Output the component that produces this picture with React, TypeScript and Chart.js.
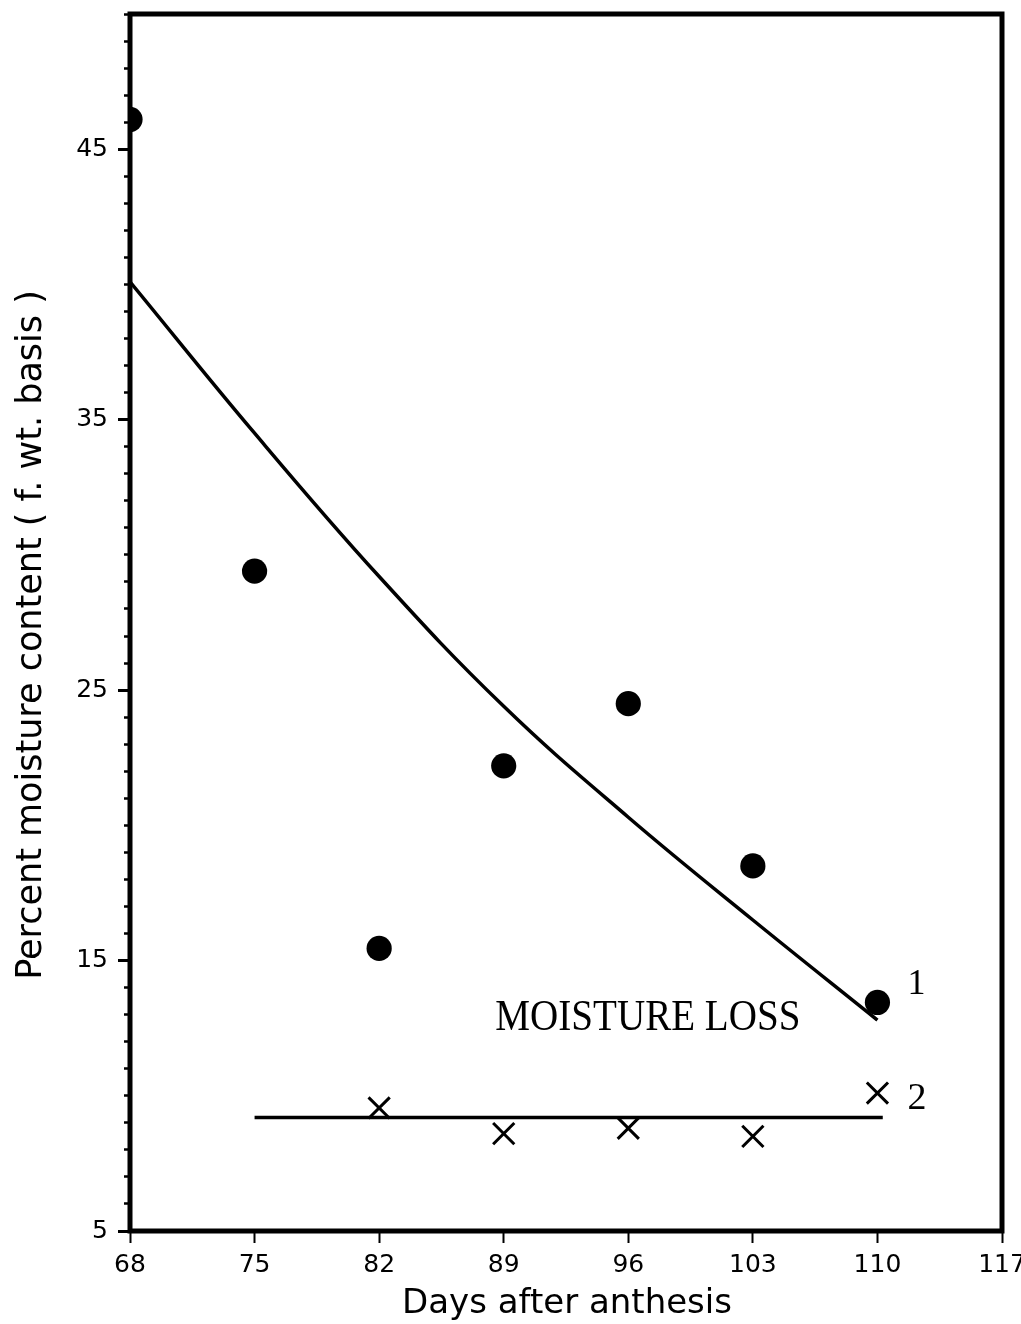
import React, { useEffect, useRef } from "react";
import { Chart, registerables } from "chart.js";

Chart.register(...registerables);

// Observed moisture content (curve 1, filled circles)
const sampleDays = [68, 75, 82, 89, 96, 103, 110];
const sampleMoisture = [46.1, 29.4, 15.45, 22.2, 24.5, 18.5, 13.45];

// Fitted curve 1
const fitDays = [68, 75, 82, 89, 96, 103, 110];
const fitMoisture = [40.1, 34.5, 29.2, 24.4, 20.3, 16.5, 12.8];

// Moisture loss (curve 2, crosses) and its mean line
const lossDays = [82, 89, 96, 103, 110];
const lossMoisture = [9.55, 8.6, 8.8, 8.5, 10.1];
const lossLineDays = [75, 110.3];
const lossLineMoisture = [9.2, 9.2];

// Axis ticks
const xTicks = [68, 75, 82, 89, 96, 103, 110, 117];
const yTicks = [5, 15, 25, 35, 45];

const pts = (xs: number[], ys: number[]) => xs.map((x, i) => ({ x, y: ys[i] }));

const frameAndText = {
  id: "frameAndText",
  afterDatasetsDraw(chart: any) {
    const { ctx, chartArea: a } = chart;
    ctx.save();
    ctx.lineWidth = 5;
    ctx.strokeStyle = "#000";
    ctx.strokeRect(a.left, a.top, a.right - a.left, a.bottom - a.top);
    ctx.restore();
  },
  afterDraw(chart: any) {
    const { ctx, chartArea: a } = chart;
    const xs = chart.scales.x;
    const ys = chart.scales.y;
    ctx.save();
    ctx.fillStyle = "#000";

    // axis titles
    ctx.font = '34px "DejaVu Sans", sans-serif';
    ctx.textAlign = "center";
    ctx.textBaseline = "alphabetic";
    ctx.fillText("Days after anthesis", (a.left + a.right) / 2 + 1, 1313);

    ctx.save();
    ctx.font = '35px "DejaVu Sans", sans-serif';
    ctx.translate(41, 635);
    ctx.rotate(-Math.PI / 2);
    ctx.fillText("Percent moisture content ( f. wt. basis )", 0, 0);
    ctx.restore();

    // in-plot labels
    ctx.font = '44px "Liberation Serif", serif';
    ctx.textAlign = "center";
    ctx.fillText("MOISTURE LOSS", xs.getPixelForValue(97.1), ys.getPixelForValue(12.43), 305);

    ctx.textAlign = "left";
    ctx.font = '36px "Liberation Serif", serif';
    const px = xs.getPixelForValue(110);
    ctx.fillText("1", px + 30, ys.getPixelForValue(13.45) - 8);
    ctx.font = '38px "Liberation Serif", serif';
    ctx.fillText("2", px + 30, ys.getPixelForValue(10.1) + 16);
    ctx.restore();
  },
};

export default function App() {
  const ref = useRef<HTMLCanvasElement>(null);

  useEffect(() => {
    const tickFont = { family: '"DejaVu Sans", sans-serif', size: 25, lineHeight: 1 };
    const chart = new Chart(ref.current!, {
      type: "scatter",
      data: {
        datasets: [
          {
            data: pts(fitDays, fitMoisture),
            showLine: true,
            borderColor: "#000",
            borderWidth: 3.5,
            pointRadius: 0,
            tension: 0.4,
            xAxisID: "x",
            yAxisID: "y",
          },
          {
            data: pts(lossLineDays, lossLineMoisture),
            showLine: true,
            borderColor: "#000",
            borderWidth: 3.5,
            pointRadius: 0,
            xAxisID: "x",
            yAxisID: "y",
          },
          {
            data: pts(sampleDays, sampleMoisture),
            pointRadius: 12.6,
            pointBackgroundColor: "#000",
            pointBorderWidth: 0,
            clip: 0,
            xAxisID: "x",
            yAxisID: "y",
          },
          {
            data: pts(lossDays, lossMoisture),
            pointStyle: "crossRot",
            pointRadius: 15,
            pointBorderColor: "#000",
            pointBorderWidth: 3,
            xAxisID: "x",
            yAxisID: "y",
          },
        ],
      },
      options: {
        responsive: false,
        devicePixelRatio: 1,
        animation: false,
        layout: { autoPadding: false, padding: { top: 14, right: 19, left: 0, bottom: 0 } },
        plugins: { legend: { display: false }, tooltip: { enabled: false } },
        scales: {
          x: {
            type: "linear",
            position: "bottom",
            min: 68,
            max: 117,
            afterBuildTicks: (s: any) => {
              s.ticks = xTicks.map((v) => ({ value: v }));
            },
            afterFit: (s: any) => {
              s.height = 93;
              s.paddingLeft = 0;
              s.paddingRight = 0;
            },
            grid: { drawOnChartArea: false, tickLength: 12, tickWidth: 2, tickColor: "#000" },
            border: { display: false },
            ticks: { color: "#000", font: tickFont, padding: 10, maxRotation: 0, autoSkip: false },
          },
          y: {
            type: "linear",
            position: "left",
            weight: 1,
            min: 5,
            max: 50,
            afterBuildTicks: (s: any) => {
              s.ticks = yTicks.map((v) => ({ value: v }));
            },
            afterFit: (s: any) => {
              s.width = 130;
              s.paddingTop = 0;
              s.paddingBottom = 0;
            },
            grid: { drawOnChartArea: false, tickLength: 12, tickWidth: 3, tickColor: "#000" },
            border: { display: false },
            ticks: { color: "#000", font: tickFont, padding: 10, autoSkip: false },
          },
          yMinor: {
            type: "linear",
            position: "left",
            weight: 0,
            min: 5,
            max: 50,
            afterBuildTicks: (s: any) => {
              const t: { value: number }[] = [];
              for (let v = 5; v <= 50; v += 1) t.push({ value: v });
              s.ticks = t;
            },
            afterFit: (s: any) => {
              s.width = 0;
              s.paddingTop = 0;
              s.paddingBottom = 0;
            },
            grid: { drawOnChartArea: false, tickLength: 6, tickWidth: 2.5, tickColor: "#000" },
            border: { display: false },
            ticks: { display: false },
          },
        },
      },
      plugins: [frameAndText],
    } as any);
    return () => chart.destroy();
  }, []);

  return (
    <div style={{ position: "absolute", left: 0, top: 0, width: 1021, height: 1324, background: "#fff" }}>
      <canvas ref={ref} width={1021} height={1324} style={{ display: "block", width: 1021, height: 1324 }} />
    </div>
  );
}
